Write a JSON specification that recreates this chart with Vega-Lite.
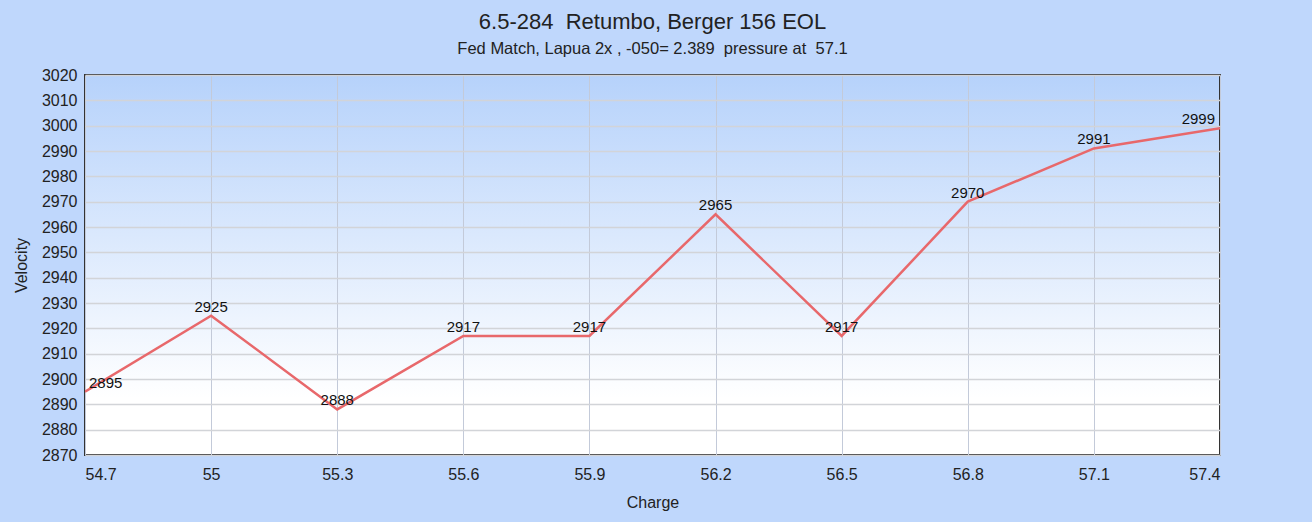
{
  "$schema": "https://vega.github.io/schema/vega-lite/v6.json",
  "width": 1135,
  "height": 380,
  "autosize": {"type": "none"},
  "padding": {"left": 85, "top": 75, "right": 92, "bottom": 67},
  "background": "#bfd7fc",
  "title": {
    "text": "6.5-284 \u00a0Retumbo, Berger 156 EOL",
    "subtitle": "Fed Match, Lapua 2x , -050= 2.389 \u00a0pressure at \u00a057.1",
    "font": "Liberation Sans",
    "fontSize": 22,
    "fontWeight": "normal",
    "color": "#222222",
    "subtitleFont": "Liberation Sans",
    "subtitleFontSize": 16.5,
    "subtitleColor": "#222222",
    "subtitlePadding": 7,
    "offset": 9,
    "anchor": "middle"
  },
  "data": {
    "values": [
      {"Charge": 54.7, "Velocity": 2895},
      {"Charge": 55.0, "Velocity": 2925},
      {"Charge": 55.3, "Velocity": 2888},
      {"Charge": 55.6, "Velocity": 2917},
      {"Charge": 55.9, "Velocity": 2917},
      {"Charge": 56.2, "Velocity": 2965},
      {"Charge": 56.5, "Velocity": 2917},
      {"Charge": 56.8, "Velocity": 2970},
      {"Charge": 57.1, "Velocity": 2991},
      {"Charge": 57.4, "Velocity": 2999}
    ]
  },
  "encoding": {
    "x": {
      "field": "Charge",
      "type": "quantitative",
      "scale": {"domain": [54.7, 57.4], "nice": false, "zero": false},
      "axis": {
        "values": [54.7, 55.0, 55.3, 55.6, 55.9, 56.2, 56.5, 56.8, 57.1, 57.4],
        "format": "~r",
        "title": "Charge",
        "gridColor": "#c3cad9",
        "gridWidth": 1,
        "labelPadding": 11,
        "titlePadding": 12
      }
    },
    "y": {
      "field": "Velocity",
      "type": "quantitative",
      "scale": {"domain": [2870, 3020], "nice": false, "zero": false},
      "axis": {
        "values": [2870, 2880, 2890, 2900, 2910, 2920, 2930, 2940, 2950, 2960, 2970, 2980, 2990, 3000, 3010, 3020],
        "format": "d",
        "title": "Velocity",
        "gridColor": "#d2d4d8",
        "gridWidth": 1.6,
        "labelPadding": 8,
        "titlePadding": 12
      }
    }
  },
  "layer": [
    {
      "mark": {"type": "line", "color": "#e8686b", "strokeWidth": 2.5, "clip": true}
    },
    {
      "mark": {
        "type": "text",
        "font": "Liberation Sans",
        "fontSize": 15,
        "color": "#111111",
        "baseline": "middle",
        "dy": -9,
        "align": {"expr": "datum.Charge < 54.8 ? 'left' : datum.Charge > 57.3 ? 'right' : 'center'"},
        "dx": {"expr": "datum.Charge < 54.8 ? 4 : datum.Charge > 57.3 ? -5 : 0"}
      },
      "encoding": {"text": {"field": "Velocity", "type": "quantitative", "format": "d"}}
    }
  ],
  "config": {
    "view": {
      "stroke": "#333333",
      "strokeWidth": 2,
      "fill": {
        "gradient": "linear",
        "x1": 0, "y1": 0, "x2": 0, "y2": 1,
        "stops": [
          {"offset": 0, "color": "#b6d2fb"},
          {"offset": 0.85, "color": "#ffffff"}
        ]
      }
    },
    "axis": {
      "domain": false,
      "ticks": false,
      "labelFont": "Liberation Sans",
      "labelFontSize": 16,
      "labelColor": "#222222",
      "titleFont": "Liberation Sans",
      "titleFontSize": 16,
      "titleFontWeight": "normal",
      "titleColor": "#222222"
    }
  }
}
